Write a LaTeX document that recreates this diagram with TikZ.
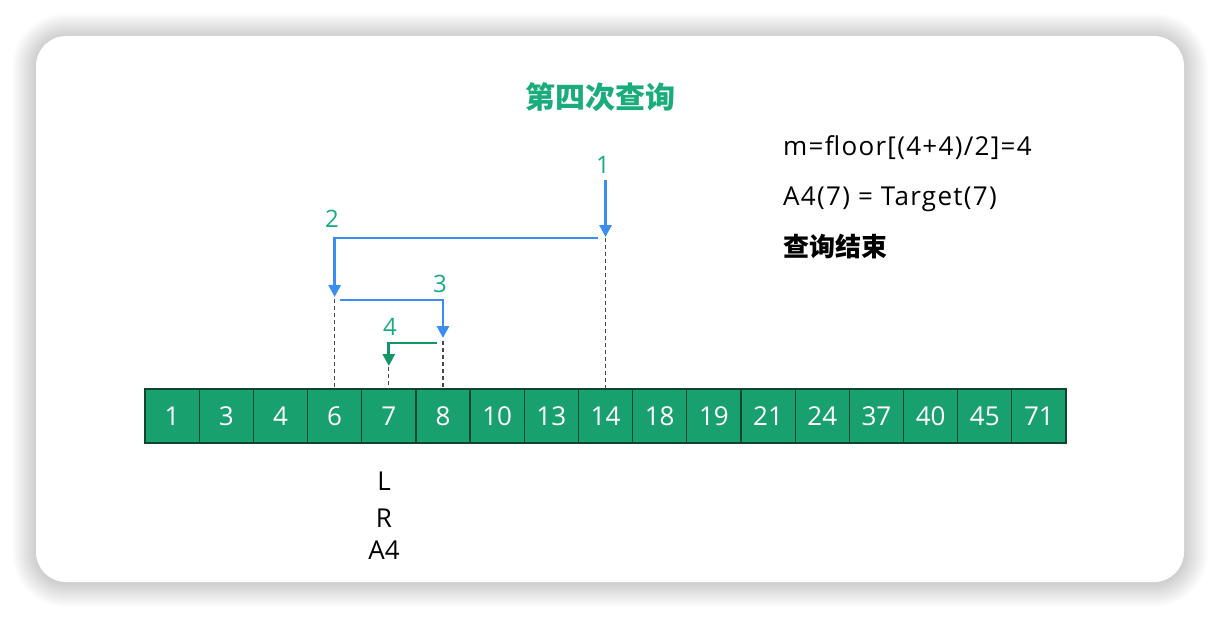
\documentclass[tikz,border=0pt]{standalone}
\usepackage{fontspec}
\setmainfont{Open Sans}
\newfontfamily\cjk{Noto Sans CJK SC}
\usetikzlibrary{arrows.meta}
\definecolor{cellg}{RGB}{24,160,110}
\definecolor{celld}{RGB}{12,70,45}
\definecolor{titleg}{RGB}{26,172,122}
\definecolor{arrowb}{RGB}{58,142,242}
\definecolor{arrowg}{RGB}{20,150,100}
\definecolor{dashc}{RGB}{70,70,70}
\tikzset{
  cell/.style={draw=celld, line width=1.2pt, fill=cellg, text=white, minimum width=54.18pt, minimum height=54pt, inner sep=0pt, font=\fontsize{26}{30}\selectfont},
  barrow/.style={draw=arrowb, line width=2.8pt, -{Triangle[width=12pt,length=12pt]}},
  garrow/.style={draw=arrowg, line width=2.8pt, -{Triangle[width=12pt,length=12pt]}},
  guide/.style={draw=dashc, line width=1.3pt, dash pattern=on 4pt off 3pt},
  steplabel/.style={text=titleg, font=\fontsize{24}{28}\selectfont, inner sep=0pt},
  infotext/.style={anchor=west, inner sep=0pt, font=\fontsize{26}{30}\selectfont\addfontfeatures{LetterSpace=5}},
  bottomtext/.style={inner sep=0pt, font=\fontsize{26}{30}\selectfont}
}
\begin{document}
\begin{tikzpicture}[x=1pt,y=-1pt]
\useasboundingbox (0,0) rectangle (1220,618);
\fill[white] (0,0) rectangle (1220,618);
% soft shadow
\foreach \k in {1,...,24}{
  \fill[black, opacity=0.006, rounded corners={30+\k}] ({36-\k},{37-\k}) rectangle ({1184+\k},{583+\k});
}
\fill[white, rounded corners=30pt] (36,36) rectangle (1184,582);
% title
\node[text=titleg, inner sep=0pt, font=\cjk\bfseries\fontsize{30}{34}\selectfont] (title) at (600,97) {第四次查询};
% cells
\foreach \v [count=\i from 0] in {1,3,4,6,7,8,10,13,14,18,19,21,24,37,40,45,71}{
  \node[cell] (c\i) at ({145+54.18*(\i+0.5)},416) {\v};
}
% arrow coordinates
\coordinate (s1) at (c8.north |- 0,180);
\coordinate (e1) at (c8.north |- 0,237);
\coordinate (s2) at (598,238);
\coordinate (e2) at (c3.north |- 0,297);
\coordinate (s3) at (340,300);
\coordinate (e3) at (c5.north |- 0,338);
\coordinate (s4) at (437,343);
\coordinate (e4) at (c4.north |- 0,366);
% dashed guides
\draw[guide] (c8.north |- 0,238) -- (c8.north);
\draw[guide] (c3.north |- 0,299) -- (c3.north);
\draw[guide] (c5.north |- 0,341) -- (c5.north);
\draw[guide] (c4.north |- 0,367) -- (c4.north);
% arrows
\draw[barrow] (s1) -- (e1);
\draw[barrow] (s2) -| (e2);
\draw[barrow] (s3) -| (e3);
\draw[garrow] (s4) -| (e4);
% step labels
\node[steplabel] (l1) at (603,165) {1};
\node[steplabel] (l2) at (332,219) {2};
\node[steplabel] (l3) at (440,284) {3};
\node[steplabel] (l4) at (390,327) {4};
% info text
\node[infotext] (t1) at (783,148) {m=floor[(4+4)/2]=4};
\node[infotext] (t2) at (783,199) {A4(7) = Target(7)};
\node[infotext, font=\cjk\bfseries\fontsize{26}{30}\selectfont] (t3) at (783,247) {查询结束};
% bottom labels
\node[bottomtext] (bL) at (384,481) {L};
\node[bottomtext] (bR) at (384,518) {R};
\node[bottomtext] (bA) at (384,550) {A4};
\end{tikzpicture}
\end{document}
